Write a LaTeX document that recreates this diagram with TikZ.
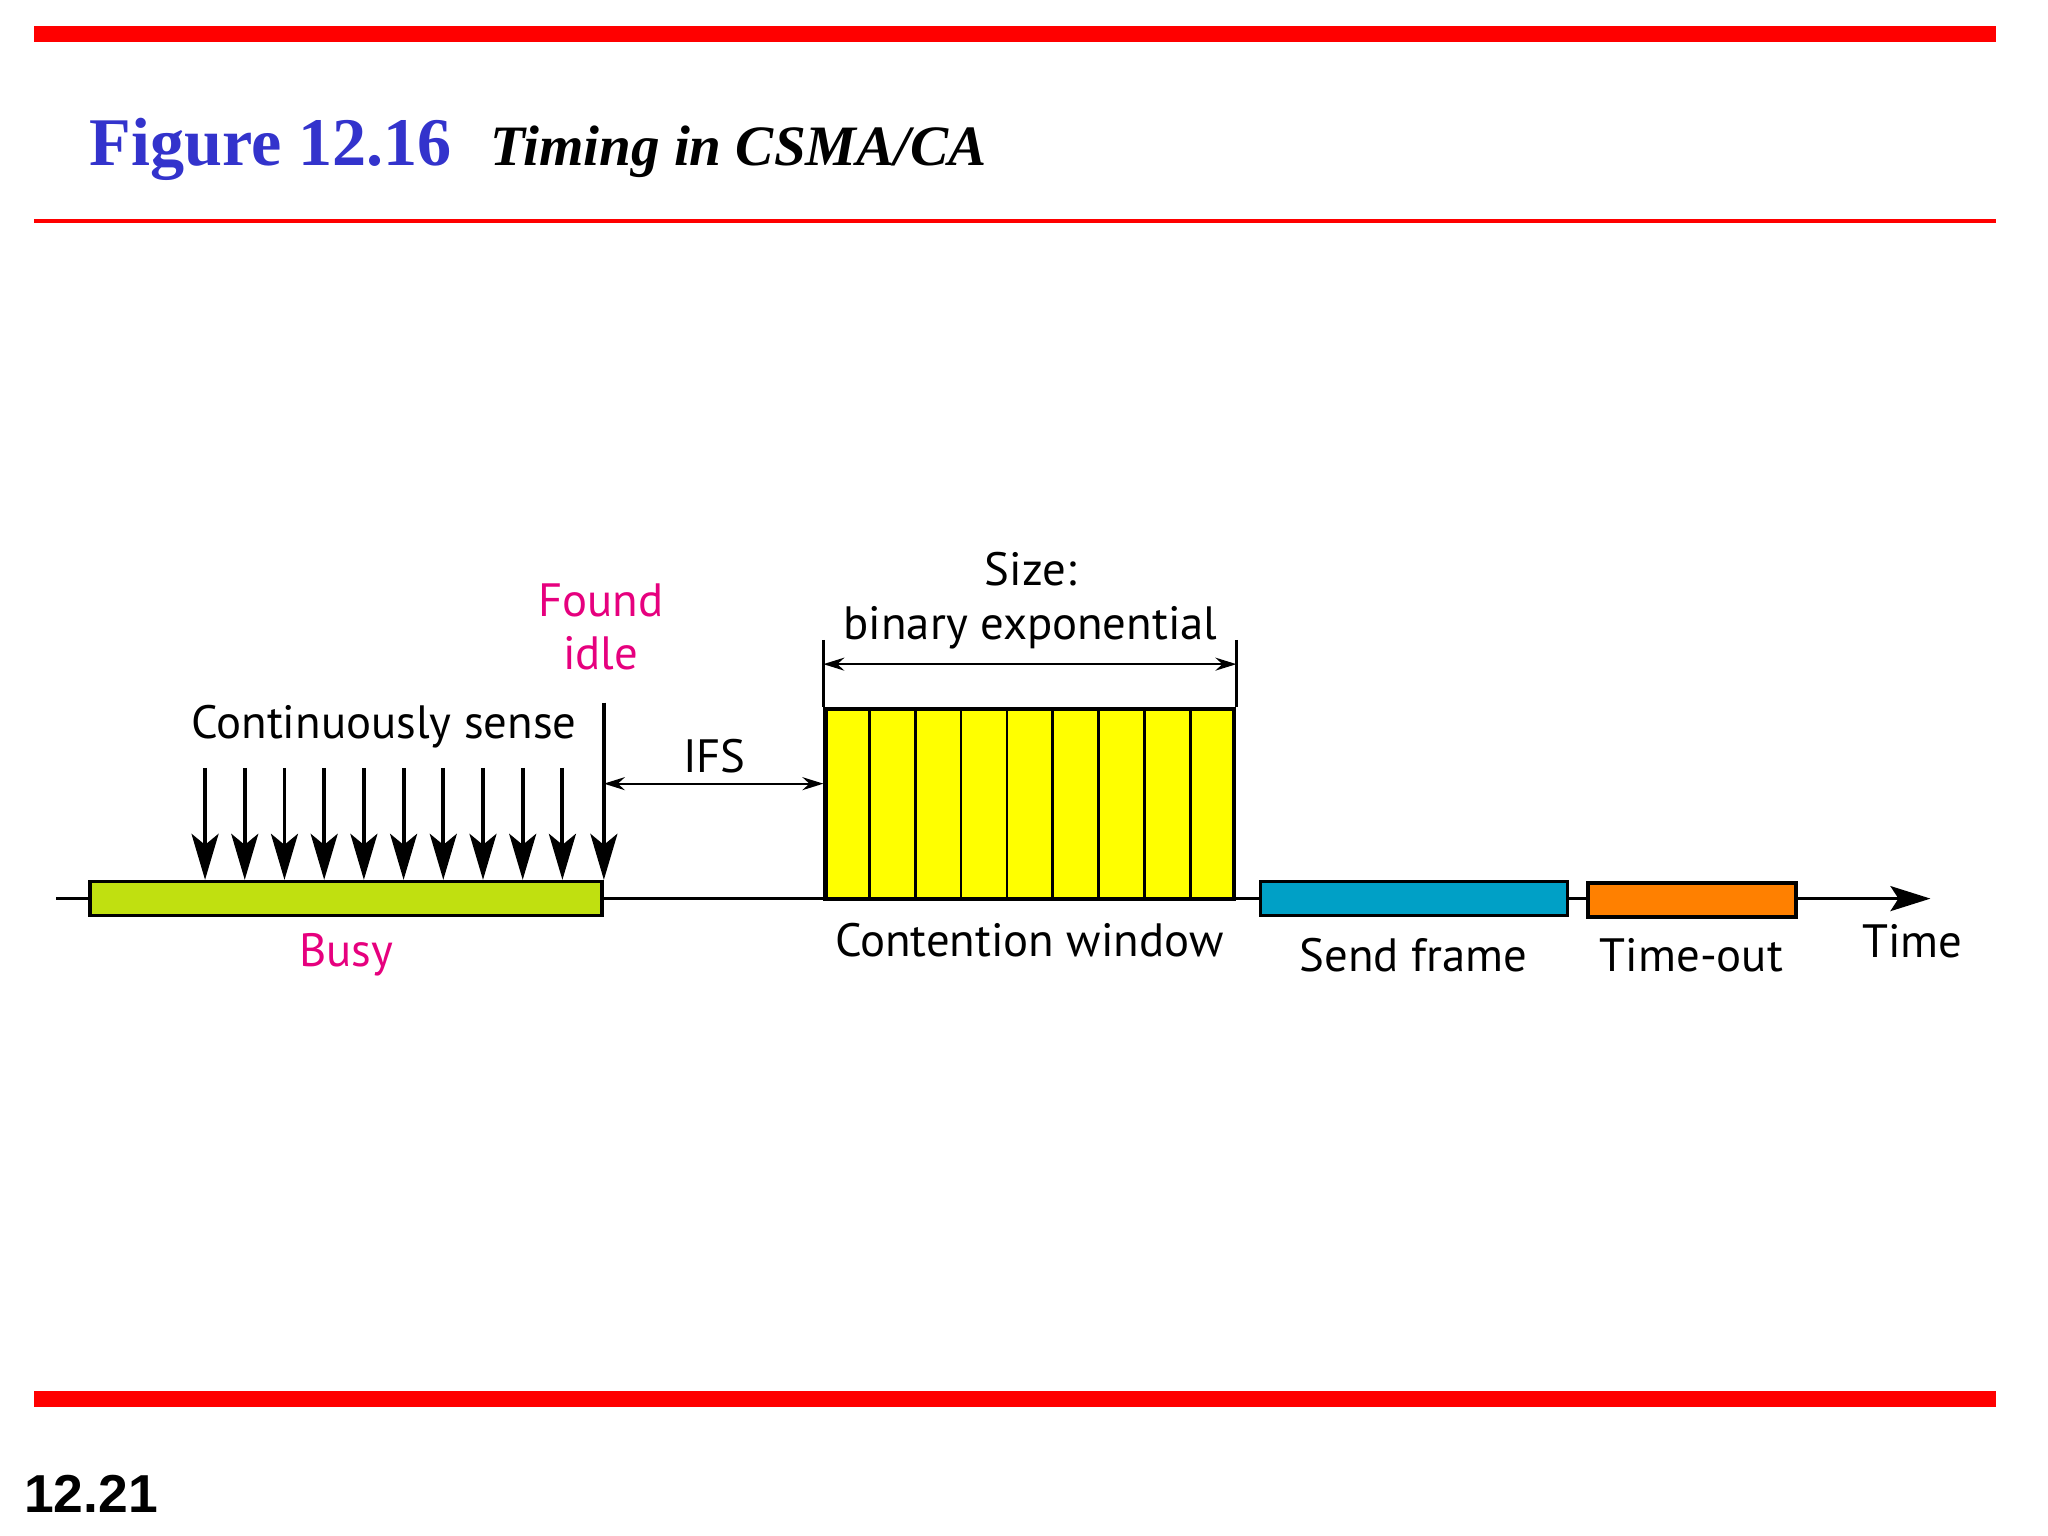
\documentclass[tikz,border=0pt]{standalone}
\usepackage{fontspec}
\setmainfont{Liberation Serif}
\setsansfont{PT Sans}
\newfontfamily\pagefont{Liberation Sans}
\usetikzlibrary{arrows.meta,positioning,calc}
\definecolor{barred}{RGB}{255,0,0}
\definecolor{figblue}{RGB}{51,51,204}
\definecolor{busygreen}{RGB}{192,224,16}
\definecolor{labelpink}{RGB}{230,0,126}
\definecolor{cwyellow}{RGB}{255,255,0}
\definecolor{sendblue}{RGB}{0,160,198}
\definecolor{outorange}{RGB}{255,128,0}

\begin{document}
\begin{tikzpicture}[x=0.13061mm,y=-0.13061mm,
  font=\sffamily\fontsize{13.3}{15.2}\selectfont,
  slotbox/.style={draw, line width=1pt, inner sep=0pt, minimum height=3.40mm},
  sense/.style={line width=1.1pt, -{Stealth[length=4.6mm,width=2.7mm,inset=1.1mm]}},
  dim/.style={line width=0.6pt, {Stealth[length=2.1mm,width=1.3mm,inset=0.7mm]}-{Stealth[length=2.1mm,width=1.3mm,inset=0.7mm]}},
  lbl/.style={inner sep=0pt, align=center}]
\useasboundingbox (0,0) rectangle (1568,1176);
\fill[barred] (26,20) rectangle (1528,32);
\fill[barred] (26,167.5) rectangle (1528,170.5);
\fill[barred] (26,1065) rectangle (1528,1077);
\node[anchor=base west, inner sep=0pt, text=figblue, font=\rmfamily\bfseries\fontsize{19.4}{22}\selectfont] (fig) at (68,127) {Figure 12.16};
\node[anchor=base west, inner sep=0pt, font=\rmfamily\bfseries\itshape\fontsize{16.25}{19}\selectfont] (title) at (375,127) {Timing in CSMA/CA};
\node[anchor=base west, inner sep=0pt, font=\pagefont\bfseries\fontsize{15.2}{18}\selectfont] (page) at (18,1158) {12.21};

\coordinate (t0) at (43,688);
\coordinate (t1) at (1478,688);
\draw[line width=0.85pt, -{Stealth[length=4mm,width=2.5mm,inset=0.8mm]}] (t0) -- (t1);

\node[slotbox, fill=busygreen, minimum width=51.20mm] (busy) at (265,688) {};
\node[slotbox, fill=cwyellow, line width=1.2pt, minimum width=40.88mm, minimum height=18.94mm] (cw) at (788.5,615.5) {};
\node[slotbox, fill=sendblue, minimum width=30.69mm] (send) at (1082.5,688) {};
\node[slotbox, fill=outorange, minimum width=20.77mm] (out) at (1295.5,689) {};
\foreach \k in {1,...,8}
  \draw[line width=0.8pt] ($(cw.north west)!\k/9!(cw.north east)$) -- ($(cw.south west)!\k/9!(cw.south east)$);

\foreach \i in {0,...,9} {
  \coordinate (s\i) at (157+\i*30.4,588);
  \draw[sense] (s\i) -- (s\i |- busy.north);
}
\coordinate (idle) at (busy.north east |- 0,538);
\draw[sense] (idle) -- (busy.north east);

\coordinate (ifs) at (busy.north east |- 0,600);
\draw[dim] (ifs) -- (ifs -| cw.west);
\coordinate (szl) at (cw.north west |- 0,490);
\coordinate (szr) at (cw.north east |- 0,490);
\draw[line width=0.8pt] (szl) -- (cw.north west);
\draw[line width=0.8pt] (szr) -- (cw.north east);
\draw[dim] ($(szl)!0.36!(cw.north west)$) -- ($(szr)!0.36!(cw.north east)$);

\node[lbl] (sense) at (294,556) {Continuously sense};
\node[lbl, text=labelpink] (found) at (460,480) {Found\\idle};
\node[lbl] (ifslbl) at (547,579) {IFS};
\node[lbl] (size) at (789,460) {Size:\\binary exponential};
\node[lbl, text=labelpink] (busylbl) at (265,731) {Busy};
\node[lbl] (cwlbl) at (788,720) {Contention window};
\node[lbl] (sendlbl) at (1082,731) {Send frame};
\node[lbl] (outlbl) at (1295,731) {Time-out};
\node[lbl] (time) at (1464,721) {Time};
\end{tikzpicture}
\end{document}
